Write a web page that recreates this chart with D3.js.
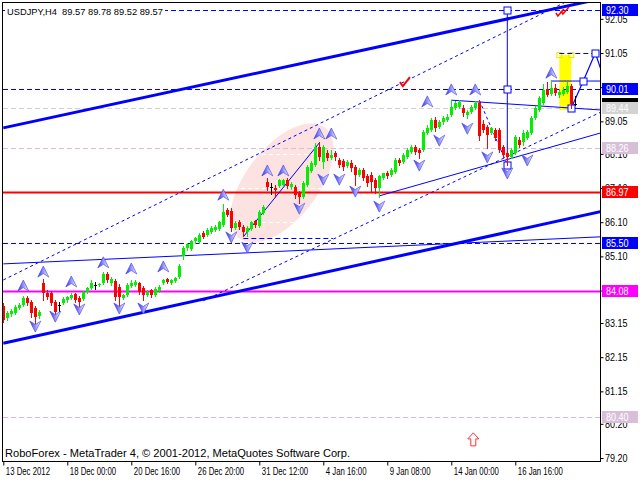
<!DOCTYPE html>
<html><head><meta charset="utf-8">
<script src="https://cdn.jsdelivr.net/npm/d3@7"></script>
<style>body{margin:0;background:#fff}svg{display:block}text{font-family:"Liberation Sans",Arial,sans-serif}</style>
</head><body><svg id="c" width="640" height="480"></svg>
<script>
// ---------- data ----------
const opens=[83.65,83.30,83.41,83.44,83.59,83.68,83.88,83.76,83.59,83.35,
84.32,84.03,84.03,83.76,83.68,83.73,83.82,83.88,84.00,83.88,
83.85,84.06,84.17,84.26,84.26,84.32,84.58,84.32,84.39,84.20,
83.88,83.97,84.23,84.26,84.32,84.17,83.97,84.12,83.97,84.09,
84.32,84.44,84.32,84.39,84.50,85.11,85.34,85.31,85.55,85.52,
85.78,85.72,85.81,85.87,85.90,86.02,86.46,86.43,85.93,86.10,
85.96,85.81,85.90,86.13,85.99,86.37,87.28,87.13,87.10,87.16,
87.19,87.33,87.13,87.13,86.95,86.84,87.19,87.60,87.77,88.30,
87.86,88.12,87.98,88.12,87.92,87.89,87.74,87.83,87.71,87.48,
87.63,87.45,87.48,87.33,87.10,87.39,87.54,87.48,87.57,87.92,
87.86,88.01,88.15,88.30,88.21,88.21,88.71,88.80,89.09,88.88,
89.03,89.09,89.24,89.44,89.47,89.44,89.24,89.32,89.44,89.59,
88.97,88.88,88.71,88.80,88.80,88.30,88.12,88.01,88.12,88.50,
88.45,88.56,88.71,89.15,89.38,89.59,90.00,89.85,90.02,89.82,
89.85,89.91,90.08,89.57];
const highs=[83.73,83.50,83.56,83.68,83.73,83.94,83.94,83.82,83.65,83.53,
84.44,84.12,84.09,83.82,83.76,83.91,83.94,84.03,84.03,83.94,
84.09,84.20,84.41,84.35,84.32,84.64,84.64,84.50,84.44,84.29,
84.00,84.32,84.41,84.41,84.35,84.23,84.12,84.15,84.20,84.26,
84.44,84.47,84.44,84.50,84.88,85.40,85.49,85.58,85.67,85.78,
85.84,85.93,85.99,86.02,86.13,86.63,86.51,86.51,86.13,86.16,
86.02,85.99,86.13,86.16,86.46,86.60,87.39,87.25,87.19,87.36,
87.36,87.39,87.28,87.19,87.01,87.30,87.77,87.89,88.42,88.45,
88.36,88.21,88.21,88.18,87.98,87.95,87.92,87.92,87.77,87.68,
87.68,87.51,87.57,87.39,87.48,87.54,87.60,87.68,87.98,87.98,
88.12,88.27,88.36,88.36,88.27,88.80,88.94,89.15,89.18,89.09,
89.21,89.27,89.67,89.65,89.67,89.53,89.38,89.53,89.65,89.65,
89.09,88.94,88.88,88.86,88.86,88.36,88.18,88.27,88.65,88.59,
88.80,88.80,89.21,89.50,89.79,90.14,90.20,90.26,90.14,90.00,
90.05,90.20,90.14,89.78];
const lows=[83.18,83.24,83.35,83.41,83.56,83.65,83.68,83.33,83.15,83.30,
83.82,83.85,83.68,83.41,83.50,83.71,83.76,83.85,83.76,83.65,
83.82,84.03,84.15,84.15,84.23,84.29,84.35,84.26,83.82,83.59,
83.85,83.94,84.20,84.23,84.00,83.82,83.94,83.91,83.94,84.06,
84.29,84.32,84.29,84.35,84.47,85.02,85.29,85.29,85.49,85.49,
85.64,85.70,85.78,85.84,85.87,85.99,86.28,85.84,85.90,85.90,
85.70,85.70,85.87,85.96,85.96,86.34,87.04,86.92,86.84,87.13,
87.16,87.10,87.07,86.81,86.66,86.81,87.16,87.57,87.74,87.92,
87.68,87.92,87.95,87.92,87.71,87.63,87.71,87.60,87.19,87.45,
87.33,87.16,86.98,86.95,86.84,87.36,87.39,87.45,87.54,87.77,
87.83,87.98,88.12,88.09,87.98,88.18,88.68,88.77,88.77,88.86,
88.97,89.06,89.21,89.41,89.44,89.21,89.15,89.29,89.41,88.50,
88.74,88.27,88.68,88.50,88.15,88.01,87.77,87.98,88.09,88.30,
88.36,88.53,88.68,89.12,89.35,89.56,89.79,89.82,89.82,89.76,
89.82,89.88,89.44,89.52];
const closes=[83.24,83.44,83.50,83.62,83.68,83.88,83.73,83.44,83.33,83.47,
84.03,83.91,83.73,83.47,83.68,83.85,83.91,83.97,83.82,83.76,
84.06,84.17,84.32,84.26,84.29,84.58,84.41,84.44,83.91,83.91,
83.97,84.26,84.32,84.35,84.06,83.97,84.06,83.97,84.15,84.20,
84.41,84.35,84.41,84.47,84.82,85.34,85.46,85.55,85.64,85.72,
85.67,85.87,85.93,85.96,86.10,86.40,86.31,85.93,86.08,85.96,
85.81,85.93,86.10,86.02,86.40,86.54,87.13,87.13,87.04,87.33,
87.33,87.16,87.22,86.89,86.84,87.25,87.71,87.83,88.30,88.01,
88.30,87.98,88.07,88.01,87.77,87.71,87.86,87.68,87.48,87.63,
87.39,87.25,87.28,87.10,87.45,87.54,87.45,87.63,87.92,87.83,
88.07,88.21,88.30,88.15,88.12,88.74,88.86,89.09,88.86,89.03,
89.15,89.18,89.47,89.59,89.62,89.29,89.32,89.47,89.59,88.62,
88.80,88.65,88.86,88.56,88.21,88.07,88.01,88.21,88.59,88.36,
88.71,88.74,89.15,89.44,89.73,89.97,89.82,90.02,89.88,89.91,
89.97,90.08,89.56,89.57];

const timeTickBars=[0,16,32,48,64,80,96,112,128];
const timeLabels=["13 Dec 2012","18 Dec 00:00","20 Dec 16:00","26 Dec 20:00","31 Dec 12:00","4 Jan 16:00","9 Jan 08:00","14 Jan 00:00","16 Jan 16:00"];
const priceTicks=[92.05,91.05,90.05,89.05,88.10,87.10,86.10,85.10,84.10,83.15,82.15,81.15,80.20,79.20];

const levelPrices=[92.30,90.01,89.44,88.26,86.97,85.50,84.08,80.40];
const levelColors=["#0000ff","#0000ff","#d3d3d3","#d8bfd8","#ff0000","#0000ff","#ff00ff","#d8bfd8"];
const levelDashed=[true,true,true,true,false,true,false,true];
const currentPrice=89.57;

const upFractalBars=[5,10,17,25,32,40,55,66,70,79,82,106,112,118,137];
const upFractalPrices=[84.23,84.64,84.35,84.91,84.73,84.79,86.89,87.60,87.60,88.68,88.68,89.62,89.97,89.97,90.46];
const downFractalBars=[8,13,19,29,35,57,61,74,80,84,88,94,104,109,116,121,126,131];
const downFractalPrices=[83.06,83.35,83.56,83.59,83.59,85.67,85.37,86.51,87.36,87.36,87.01,86.57,87.77,88.50,88.85,88.01,87.54,87.92];

// trend objects: [bar1, price1, bar2, price2]
const thickLines=[[0,88.86,140,92.40],[0,82.56,149,86.40]];
const thinRays=[[0,84.88,149,85.67],[94,86.87,149,88.70],[112,89.67,142,89.44],[137,90.23,152,90.23]];
const thinSegments=[[60,85.67,79,88.42],[126,92.30,126,87.78]];
const dottedRays=[[0,84.41,139,92.45],[50,83.80,149,89.30]];
const dottedSegments=[[119,89.67,126,87.78]];
const dashedSegments=[[60,85.64,82.4,85.64],[139,91.05,148,91.05]];
const zigzagBars=[142,145,148,151];
const zigzagPrices=[89.44,90.23,91.05,90.01];
const squareBars=[126,126,126,142,145,148];
const squarePrices=[92.30,90.01,87.78,89.44,90.23,91.05];
const yellowRect=[139,90.99,142,89.38];
const ellipseAxis=[58.9,85.63,80.45,88.86];
const checkMarks=[[100.4,90.20]];
const doubleCheck=[139.9,92.25];
const redArrow=[117.5,79.73];

// ---------- scales ----------
const W=640,H=480,L=3,R=600,T=3,B=461;
const x=d3.scaleLinear().domain([0,143]).range([3.3,575.3]);
const y=d3.scaleLinear().domain([79.20,92.30]).range([458.0,10.3]);
const svg=d3.select("#c");
const defs=svg.append("defs");
defs.append("clipPath").attr("id","plot").append("rect").attr("x",L).attr("y",T).attr("width",R-L).attr("height",B-T);
svg.append("rect").attr("width",W).attr("height",H).attr("fill","#fff");

const g=svg.append("g").attr("clip-path","url(#plot)");

// ellipse
const e1=[x(ellipseAxis[0]),y(ellipseAxis[1])],e2=[x(ellipseAxis[2]),y(ellipseAxis[3])];
const ecx=(e1[0]+e2[0])/2,ecy=(e1[1]+e2[1])/2,erx=Math.hypot(e2[0]-e1[0],e2[1]-e1[1])/2;
const eang=Math.atan2(e2[1]-e1[1],e2[0]-e1[0])*180/Math.PI;
const etr=`translate(${ecx},${ecy}) rotate(${eang})`;
g.append("ellipse").attr("rx",erx).attr("ry",36).attr("transform",etr).attr("fill","#fde2e2");
defs.append("clipPath").attr("id","ell").append("ellipse").attr("rx",erx).attr("ry",36).attr("transform",etr);
g.append("g").attr("clip-path","url(#ell)").selectAll("line").data(priceTicks).join("line")
 .attr("x1",L).attr("x2",R).attr("y1",d=>Math.round(y(d))+0.5).attr("y2",d=>Math.round(y(d))+0.5)
 .attr("stroke","#fff").attr("stroke-dasharray","4,3");

// yellow rectangle
g.append("rect").attr("x",x(yellowRect[0])).attr("y",y(yellowRect[1])).attr("width",x(yellowRect[2])-x(yellowRect[0])).attr("height",y(yellowRect[3])-y(yellowRect[1])).attr("fill","#ffff00");
[yellowRect[0],yellowRect[2]].forEach(b=>g.append("rect").attr("x",x(b)-2.5).attr("y",y(yellowRect[1])-2.5).attr("width",5).attr("height",5).attr("fill","none").attr("stroke","#e8e800"));

// horizontal levels
g.selectAll("line.lvl").data(levelPrices).join("line").attr("class","lvl")
 .attr("x1",L).attr("x2",R).attr("y1",d=>Math.round(y(d))+0.5).attr("y2",d=>Math.round(y(d))+0.5)
 .attr("stroke",(d,i)=>levelColors[i]).attr("stroke-width",(d,i)=>levelDashed[i]?1:2)
 .attr("stroke-dasharray",(d,i)=>levelDashed[i]?"5,3":null);

// trend lines
function ray(l){const [b1,p1,b2,p2]=l;const s=(p2-p1)/(b2-b1),far=175;return [x(b1),y(p1),x(far),y(p1+s*(far-b1))];}
function seg(l){return [x(l[0]),y(l[1]),x(l[2]),y(l[3])];}
function draw(c,w,dash){g.append("line").attr("x1",c[0]).attr("y1",c[1]).attr("x2",c[2]).attr("y2",c[3]).attr("stroke","#0000ff").attr("stroke-width",w).attr("stroke-dasharray",dash);}
thickLines.forEach(l=>draw(ray(l),3,null));
thinRays.forEach(l=>draw(ray(l),1,null));
thinSegments.forEach(l=>draw(seg(l),1,null));
dottedRays.forEach(l=>draw(ray(l),1,"3,3"));
dottedSegments.forEach(l=>draw(seg(l),1,"3,3"));
dashedSegments.forEach(l=>{const c=seg(l);c[1]=c[3]=Math.round(c[1])+0.5;draw(c,1,"5,3");});
g.append("path").attr("d",d3.line().x(d=>x(d[0])).y(d=>y(d[1]))(zigzagBars.map((b,i)=>[b,zigzagPrices[i]]))).attr("fill","none").attr("stroke","#0000ff").attr("stroke-width",1.2);
g.selectAll("rect.sq").data(squareBars).join("rect").attr("class","sq")
 .attr("x",d=>Math.round(x(d))-3).attr("y",(d,i)=>Math.round(y(squarePrices[i]))-3).attr("width",7).attr("height",7)
 .attr("fill","#fff").attr("stroke","#0000ff").attr("stroke-width",1);

// candles
const bars=d3.range(opens.length).map(i=>({i,o:opens[i],h:highs[i],l:lows[i],c:closes[i]}));
const col=d=>d.c>d.o?"#00f000":(d.c<d.o?"#ff0000":"#000000");
const px=d=>Math.round(x(d.i));
g.selectAll("line.wick").data(bars).join("line").attr("class","wick")
 .attr("x1",d=>px(d)+0.5).attr("x2",d=>px(d)+0.5).attr("y1",d=>Math.round(y(d.h))).attr("y2",d=>Math.round(y(d.l))+1)
 .attr("stroke",col);
g.selectAll("rect.body").data(bars).join("rect").attr("class","body")
 .attr("x",d=>px(d)-1).attr("width",3)
 .attr("y",d=>Math.round(y(Math.max(d.o,d.c))))
 .attr("height",d=>Math.max(1,Math.round(y(Math.min(d.o,d.c)))-Math.round(y(Math.max(d.o,d.c)))))
 .attr("fill",col);

// fractal arrows
const grad=defs.append("linearGradient").attr("id","fg").attr("x1","0").attr("x2","1").attr("y1","0").attr("y2","0");
grad.append("stop").attr("offset","0").attr("stop-color","#2a2aff");
grad.append("stop").attr("offset","0.45").attr("stop-color","#8a8aff");
grad.append("stop").attr("offset","1").attr("stop-color","#ffffff");
const upPath="M0,-6 L5.5,5 L0,1.5 L-5.5,5 Z", dnPath="M0,6 L5.5,-5 L0,-1.5 L-5.5,-5 Z";
g.selectAll("path.up").data(upFractalBars).join("path").attr("class","up")
 .attr("transform",(d,i)=>`translate(${x(d)},${y(upFractalPrices[i])})`).attr("d",upPath)
 .attr("fill","url(#fg)").attr("stroke","#5050dd").attr("stroke-width",0.7);
g.selectAll("path.dn").data(downFractalBars).join("path").attr("class","dn")
 .attr("transform",(d,i)=>`translate(${x(d)},${y(downFractalPrices[i])})`).attr("d",dnPath)
 .attr("fill","url(#fg)").attr("stroke","#5050dd").attr("stroke-width",0.7);

// red marks
checkMarks.forEach(c=>g.append("path").attr("d","M-5,0 L-2,4 L5,-5").attr("transform",`translate(${x(c[0])},${y(c[1])})`).attr("fill","none").attr("stroke","#ff0000").attr("stroke-width",2));
[-3,2].forEach(o=>g.append("path").attr("d","M-4,0 L-2,3 L4,-4").attr("transform",`translate(${x(doubleCheck[0])+o},${y(doubleCheck[1])+(o<0?1:-1)})`).attr("fill","none").attr("stroke","#ff0000").attr("stroke-width",1.5));
g.append("path").attr("d","M0,-7 L5.5,-1 L2.5,-1 L2.5,6 L-2.5,6 L-2.5,-1 L-5.5,-1 Z").attr("transform",`translate(${x(redArrow[0])},${y(redArrow[1])})`).attr("fill","#fff").attr("stroke","#ff3030").attr("stroke-width",1);

// frame
svg.append("rect").attr("x",L-0.5).attr("y",T-0.5).attr("width",R-L+1).attr("height",B-T+1).attr("fill","none").attr("stroke","#000");

// right axis
const boxPrices=[92.30,90.01,currentPrice,89.44,88.26,86.97,85.50,84.08,80.40];
const ya=svg.append("g").attr("transform",`translate(${R+0.5},0)`)
 .call(d3.axisRight(y).tickValues(priceTicks).tickSize(3).tickPadding(2)
   .tickFormat(d=>boxPrices.some(b=>Math.abs(y(b)-y(d))<3)?"":d3.format(".2f")(d)));
ya.select(".domain").remove();
ya.selectAll("text").attr("font-size",10).attr("fill","#000").attr("x",0).attr("transform","translate(4.5,0) scale(0.9,1)");
ya.selectAll("line").attr("stroke","#000");

// bottom axis
const xa=svg.append("g").attr("transform",`translate(0,${B+0.5})`)
 .call(d3.axisBottom(x).tickValues(timeTickBars).tickSize(4).tickFormat((d,i)=>timeLabels[i]));
xa.select(".domain").remove();
xa.selectAll(".tick line").attr("stroke","#000");
xa.selectAll("text").attr("text-anchor","start").attr("x",0).attr("y",0).attr("dy",null)
 .attr("transform","translate(2,13) scale(0.78,1)").attr("font-size",10).attr("fill","#000");

// level labels
const boxColors=["#0000ff","#0000ff","#000000","#d3d3d3","#d8bfd8","#ff0000","#0000ff","#ff00ff","#d8bfd8"];
const bg=svg.append("g");
boxPrices.forEach((p,i)=>{
 const yy=Math.round(y(p));
 bg.append("rect").attr("x",R+2).attr("y",yy-6).attr("width",36).attr("height",12).attr("fill",boxColors[i]);
 if(p!==currentPrice) bg.append("text").attr("transform",`translate(${R+6},${yy+4}) scale(0.9,1)`).attr("font-size",10).attr("fill","#fff").text(p.toFixed(2));
});

// title & footer
svg.append("rect").attr("x",5).attr("y",5).attr("width",160).attr("height",12).attr("fill","#fff");
svg.append("text").attr("x",7).attr("y",15).attr("font-size",9.3).attr("fill","#000").attr("xml:space","preserve").text("USDJPY,H4  89.57 89.78 89.52 89.57");
svg.append("text").attr("x",5).attr("y",457).attr("font-size",11.1).attr("fill","#000").text("RoboForex - MetaTrader 4, © 2001-2012, MetaQuotes Software Corp.");
</script></body></html>
